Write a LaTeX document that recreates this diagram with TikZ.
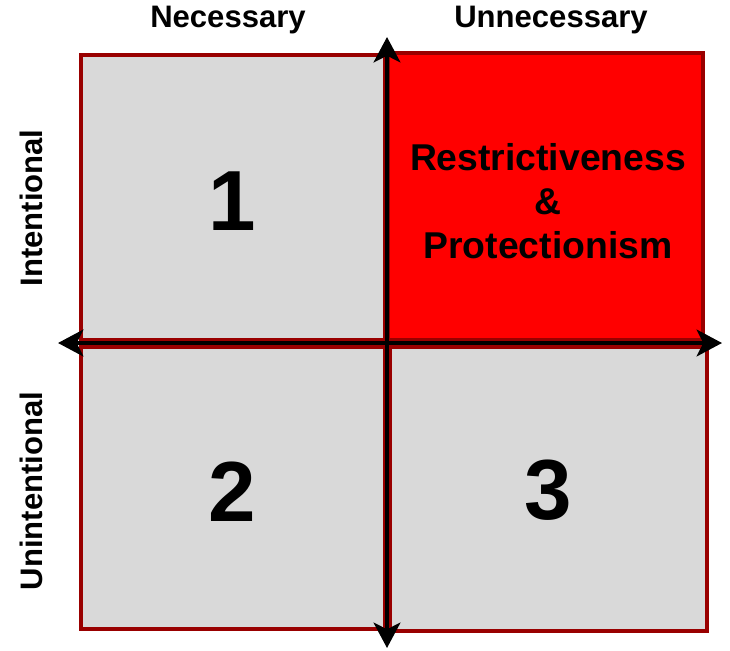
\documentclass[tikz,border=0pt]{standalone}
\usepackage{fontspec}
\setmainfont{Liberation Sans}
\usetikzlibrary{arrows.meta}

\definecolor{cellgrey}{RGB}{217,217,217}
\definecolor{cellred}{RGB}{255,0,0}
\definecolor{rimred}{RGB}{153,0,0}

\tikzset{every picture/.style={line width=0.75pt}}
\tikzset{
  cell/.style={draw=rimred, line width=3.3pt},
  axis/.style={draw=black, line width=3.4pt, {Stealth[length=19pt,width=20pt,inset=5pt]}-{Stealth[length=19pt,width=20pt,inset=5pt]}},
  headtext/.style={inner sep=0.75pt, font=\bfseries\fontsize{23.3}{27}\selectfont},
  numtext/.style={inner sep=0.75pt, font=\bfseries\fontsize{64}{70}\selectfont},
  celltext/.style={inner sep=0.75pt, align=center, font=\bfseries\fontsize{28}{33}\selectfont}
}

\begin{document}
\begin{tikzpicture}[x=0.75pt,y=0.75pt,yscale=-1,xscale=1]
        \useasboundingbox (0,0) rectangle (730,650);

        %Shape: Rectangle [id:necint]
        \draw [cell, fill=cellgrey] (81,55) -- (385,55) -- (385,340) -- (81,340) -- cycle ;
        %Shape: Rectangle [id:unnint]
        \draw [cell, fill=cellred] (388,53) -- (703,53) -- (703,340) -- (388,340) -- cycle ;
        %Shape: Rectangle [id:necunint]
        \draw [cell, fill=cellgrey] (81,347) -- (385,347) -- (385,629) -- (81,629) -- cycle ;
        %Shape: Rectangle [id:unnunint]
        \draw [cell, fill=cellgrey] (390,347) -- (707,347) -- (707,631) -- (390,631) -- cycle ;

        % Axis ends
        \coordinate (axtop) at (387,37);
        \coordinate (axbottom) at (387,648);
        \coordinate (axleft) at (58,343);
        \coordinate (axright) at (722,343);

        %Straight Lines [id:vaxis]
        \draw [axis] (axbottom) -- (axtop) ;
        %Straight Lines [id:haxis]
        \draw [axis] (axleft) -- (axright) ;

        % Text Node
        \node [headtext] (necessary) at (228,20) {Necessary};
        % Text Node
        \node [headtext] (unnecessary) at (551,20) {Unnecessary};
        % Text Node
        \node [headtext, rotate=90] (intentional) at (31,208) {Intentional};
        % Text Node
        \node [headtext, rotate=90] (unintentional) at (31,491) {Unintentional};
        % Text Node
        \node [numtext] (one) at (232,201) {1};
        % Text Node
        \node [numtext] (two) at (232,492) {2};
        % Text Node
        \node [numtext] (three) at (548,490) {3};
        % Text Node
        \node [celltext] (restrict) at (548,201) {Restrictiveness\\\&\\Protectionism};
\end{tikzpicture}
\end{document}
